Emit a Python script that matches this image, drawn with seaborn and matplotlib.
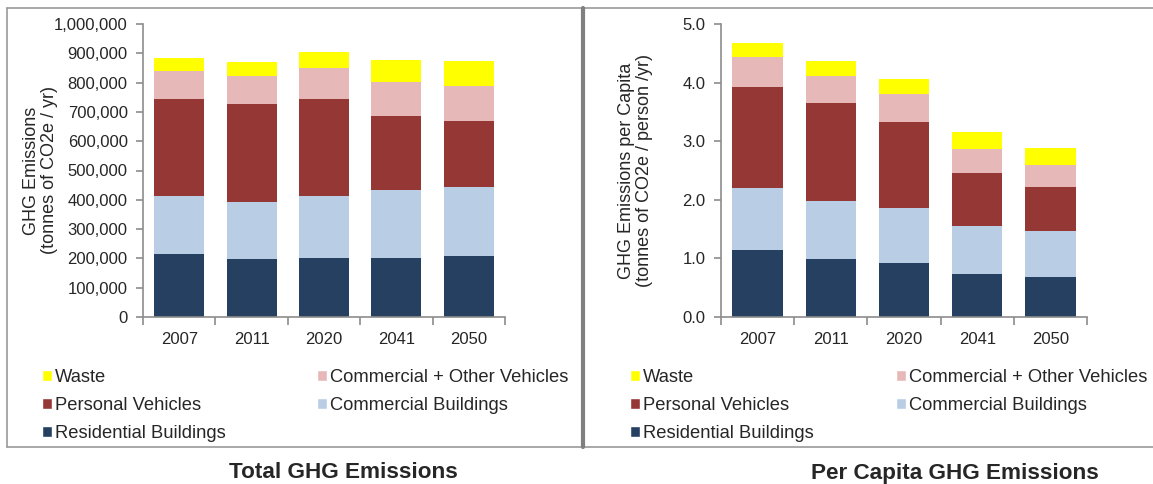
import numpy as np
import pandas as pd
import matplotlib.pyplot as plt
import seaborn as sns
from matplotlib.lines import Line2D
from matplotlib.patches import Patch
from matplotlib.ticker import FuncFormatter, FixedLocator

# ---------------------------------------------------------
# DATA
# ---------------------------------------------------------
years = ['2007', '2011', '2020', '2041', '2050']
sectors = ['Residential Buildings', 'Commercial Buildings', 'Personal Vehicles',
           'Commercial + Other Vehicles', 'Waste']

# total emissions, tonnes CO2e / yr
total_residential = [216000, 197000, 203000, 203000, 208000]
total_commercial = [197000, 197000, 210000, 230000, 234000]
total_personal = [331000, 333000, 331000, 254000, 228000]
total_comm_veh = [95000, 95000, 107000, 115000, 118000]
total_waste = [45000, 48000, 52000, 75000, 86000]

# per capita, tonnes CO2e / person / yr
pc_residential = [1.15, 0.99, 0.92, 0.74, 0.69]
pc_commercial = [1.05, 0.99, 0.94, 0.81, 0.78]
pc_personal = [1.73, 1.67, 1.47, 0.91, 0.75]
pc_comm_veh = [0.51, 0.47, 0.48, 0.41, 0.38]
pc_waste = [0.23, 0.25, 0.25, 0.28, 0.28]

colors = {
    'Residential Buildings': '#254061',
    'Commercial Buildings': '#B9CDE5',
    'Personal Vehicles': '#953735',
    'Commercial + Other Vehicles': '#E6B9B8',
    'Waste': '#FFFF00',
}

total_df = pd.DataFrame({'year': years,
                         'Residential Buildings': total_residential,
                         'Commercial Buildings': total_commercial,
                         'Personal Vehicles': total_personal,
                         'Commercial + Other Vehicles': total_comm_veh,
                         'Waste': total_waste})
pc_df = pd.DataFrame({'year': years,
                      'Residential Buildings': pc_residential,
                      'Commercial Buildings': pc_commercial,
                      'Personal Vehicles': pc_personal,
                      'Commercial + Other Vehicles': pc_comm_veh,
                      'Waste': pc_waste})

sns.set_style('white')
plt.rcParams['font.family'] = ['Liberation Sans', 'DejaVu Sans']

W, H = 1153, 484
fig = plt.figure(figsize=(W / 100, H / 100), dpi=100)


def px_axes(x0, x1, ytop, ybot):
    return fig.add_axes([x0 / W, 1 - ybot / H, (x1 - x0) / W, (ybot - ytop) / H])


def stacked(ax, df, ymax, step, fmt, ylabel, label_x, leg_x, colspace):
    cum = df[sectors].cumsum(axis=1)
    # draw from the top segment down so lower segments cover the upper ones
    for s in reversed(sectors):
        sns.barplot(x=df['year'], y=cum[s], color=colors[s], width=0.69,
                    saturation=1, ax=ax, linewidth=0)
    ax.set_ylim(0, ymax)
    ax.set_xlim(-0.5, 4.5)
    ax.set_yticks(np.arange(0, ymax + step / 2, step))
    ax.yaxis.set_major_formatter(FuncFormatter(fmt))
    ax.set_xlabel('')
    ax.set_ylabel(ylabel, fontsize=13, linespacing=1.05)
    ax.yaxis.set_label_coords(label_x, 0.5)
    for sp in ['top', 'right']:
        ax.spines[sp].set_visible(False)
    for sp in ['left', 'bottom']:
        ax.spines[sp].set_color('#8c8c8c')
        ax.spines[sp].set_linewidth(1.2)
    ax.tick_params(axis='y', length=5, width=1.2, color='#8c8c8c', left=True,
                   labelsize=12, pad=6)
    ax.tick_params(axis='x', which='major', length=0, labelsize=12, pad=11)
    ax.xaxis.set_minor_locator(FixedLocator(np.arange(-0.5, 5, 1)))
    ax.tick_params(axis='x', which='minor', length=6, width=1.2,
                   color='#8c8c8c', bottom=True)
    ax.grid(False)

    order = ['Waste', 'Personal Vehicles', 'Residential Buildings',
             'Commercial + Other Vehicles', 'Commercial Buildings']
    handles = [Patch(facecolor=colors[s], label=s) for s in order]
    ax.legend(handles=handles, ncol=2, loc='upper left',
              bbox_to_anchor=(leg_x, -0.177), frameon=False, fontsize=13.2,
              borderpad=0, borderaxespad=0,
              handlelength=0.55, handleheight=0.55, handletextpad=0.16,
              columnspacing=colspace, labelspacing=0.6)


ax1 = px_axes(143, 505, 24, 317)
stacked(ax1, total_df, 1000000, 100000, lambda v, p: f'{v:,.0f}',
        'GHG Emissions\n(tonnes of CO2e / yr)', -0.235, -0.279, 4.96)

ax2 = px_axes(721, 1087, 24, 317)
stacked(ax2, pc_df, 5.0, 1.0, lambda v, p: f'{v:.1f}',
        'GHG Emissions per Capita\n(tonnes of CO2e / person /yr)', -0.186, -0.249, 4.47)


# panel frames
def fig_line(xs, ys, lw, color):
    fig.add_artist(Line2D([x / W for x in xs], [1 - y / H for y in ys],
                          transform=fig.transFigure, color=color, linewidth=lw))


fig_line([7, 1153], [8, 8], 1.2, '#999999')
fig_line([7, 1153], [447, 447], 1.2, '#999999')
fig_line([7, 7], [8, 447], 1.2, '#999999')
fig_line([583, 583], [8, 447], 3, '#808080')

fig.text(343 / W, 1 - 473 / H, 'Total GHG Emissions', ha='center', va='center',
         fontsize=16.2, fontweight='bold')
fig.text(955 / W, 1 - 473 / H, 'Per Capita GHG Emissions', ha='center', va='center',
         fontsize=16.2, fontweight='bold')

fig.savefig('out.png', dpi=100)
